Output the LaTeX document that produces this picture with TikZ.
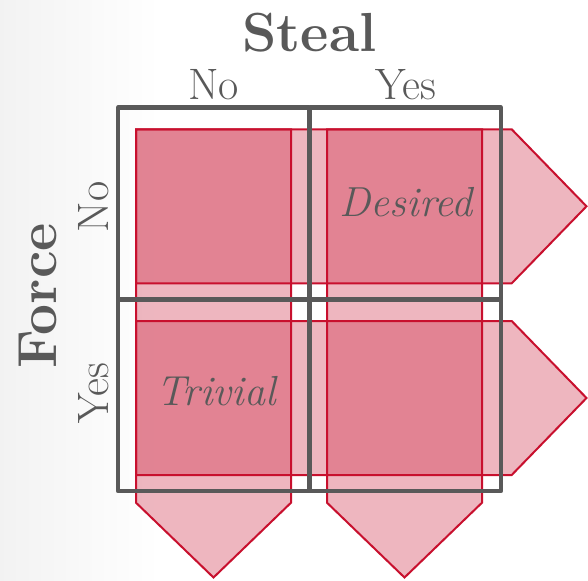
\documentclass[tikz,border=0pt]{standalone}
\definecolor{txtgray}{RGB}{89,89,89}
\definecolor{arrred}{RGB}{200,16,46}
\begin{document}
\begin{tikzpicture}[x=1pt,y=-1pt,
  pinkarrow/.style={fill=arrred,fill opacity=0.3,draw=arrred,draw opacity=1,line width=2pt,line join=miter},
  cellbox/.style={draw=txtgray,line width=4.2pt,line join=round},
  lbl/.style={text=txtgray,inner sep=0pt,anchor=base},
  headlbl/.style={lbl,font=\fontsize{55}{55}\selectfont\bfseries},
  optlbl/.style={lbl,font=\fontsize{44}{44}\selectfont},
  celllbl/.style={lbl,font=\fontsize{42}{42}\selectfont\itshape}]
\useasboundingbox (0,0) rectangle (588,580);
% background
\fill[white] (0,0) rectangle (588,580);
\shade[left color=black!5,right color=white] (0,0) rectangle (160,580);
% row arrows
\draw[pinkarrow] (136,129.3) -- (511.7,129.3) -- (586.5,206.3) -- (511.7,283.3) -- (136,283.3) -- cycle;
\draw[pinkarrow] (136,321) -- (511.7,321) -- (586.5,398) -- (511.7,475) -- (136,475) -- cycle;
% column arrows
\draw[pinkarrow] (136,129.3) -- (291,129.3) -- (291,502.7) -- (213.5,577.5) -- (136,502.7) -- cycle;
\draw[pinkarrow] (327,129.3) -- (482,129.3) -- (482,502.7) -- (404.5,577.5) -- (327,502.7) -- cycle;
% grid cells
\draw[cellbox] (118,107.5) rectangle (308.7,298.7);
\draw[cellbox] (310.3,107.5) rectangle (501,298.7);
\draw[cellbox] (118,300.3) rectangle (308.7,491);
\draw[cellbox] (310.3,300.3) rectangle (501,491);
% labels
\node[headlbl] (steal) at (309.5,51.7) {Steal};
\node[optlbl] (sno) at (213.5,99.5) {No};
\node[optlbl] (syes) at (405.5,99.5) {Yes};
\node[headlbl,rotate=90] (force) at (56.5,296) {Force};
\node[optlbl,rotate=90] (fno) at (108,207) {No};
\node[optlbl,rotate=90] (fyes) at (108,393.5) {Yes};
\node[celllbl] (desired) at (406,216) {Desired};
\node[celllbl] (trivial) at (216,405) {Trivial};
\end{tikzpicture}
\end{document}
